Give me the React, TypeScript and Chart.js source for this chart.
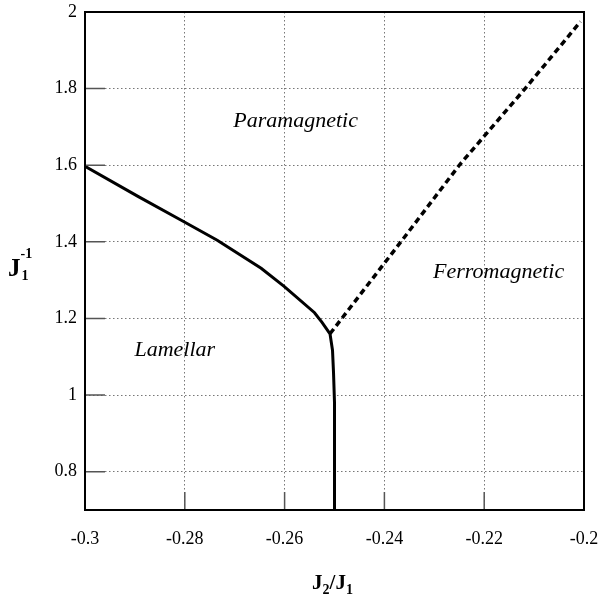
import React, { useEffect, useRef } from "react";
import { Chart, registerables } from "chart.js";

Chart.register(...registerables);

// Phase boundary (solid): Lamellar / Paramagnetic and Lamellar / Ferromagnetic
const SOLID_X = [-0.3, -0.2893, -0.2808, -0.2735, -0.2647, -0.2601, -0.254, -0.2525, -0.2509, -0.2504, -0.2502, -0.25, -0.25];
const SOLID_Y = [1.597, 1.518, 1.457, 1.404, 1.331, 1.284, 1.215, 1.19, 1.16, 1.117, 1.06, 0.98, 0.7];
// Phase boundary (dashed): Paramagnetic / Ferromagnetic
const DASH_X = [-0.2509, -0.2367, -0.225, -0.2118, -0.2007];
const DASH_Y = [1.16, 1.4, 1.6, 1.8, 1.975];

const X_TICKS = [-0.3, -0.28, -0.26, -0.24, -0.22, -0.2];
const Y_TICKS = [0.7, 0.8, 1.0, 1.2, 1.4, 1.6, 1.8, 2.0];
const Y_LABELED = [0.8, 1.0, 1.2, 1.4, 1.6, 1.8, 2.0];

const REGION_LABELS = ["Paramagnetic", "Ferromagnetic", "Lamellar"];
const REGION_X = [-0.2578, -0.2171, -0.282];
const REGION_Y = [1.716, 1.321, 1.117];

const fmt = (v: number) => String(parseFloat(v.toFixed(2)));

export default function App() {
  const ref = useRef<HTMLCanvasElement | null>(null);
  useEffect(() => {
    const canvas = ref.current!;
    const overlay = {
      id: "overlay",
      afterDatasetsDraw(chart: any) {
        const ctx = chart.ctx;
        const xs = chart.scales.x;
        const ys = chart.scales.y;
        const a = chart.chartArea;
        ctx.save();
        // inner tick marks
        ctx.strokeStyle = "#555";
        ctx.lineWidth = 1.5;
        ctx.beginPath();
        X_TICKS.forEach((v) => {
          const px = xs.getPixelForValue(v);
          ctx.moveTo(px, a.bottom);
          ctx.lineTo(px, a.bottom - 18);
        });
        Y_LABELED.forEach((v) => {
          const py = ys.getPixelForValue(v);
          ctx.moveTo(a.left, py);
          ctx.lineTo(a.left + 20, py);
        });
        ctx.stroke();
        // frame
        ctx.strokeStyle = "#000";
        ctx.lineWidth = 2;
        ctx.strokeRect(a.left, a.top, a.right - a.left, a.bottom - a.top);
        // region labels
        ctx.fillStyle = "#000";
        ctx.font = "italic 22px 'Liberation Serif'";
        ctx.textAlign = "center";
        ctx.textBaseline = "middle";
        REGION_LABELS.forEach((t, i) => {
          ctx.fillText(t, xs.getPixelForValue(REGION_X[i]), ys.getPixelForValue(REGION_Y[i]));
        });
        // x axis title J2/J1
        ctx.textAlign = "left";
        ctx.textBaseline = "alphabetic";
        const cx = (a.left + a.right) / 2;
        const big = "bold 21px 'Liberation Serif'";
        const small = "bold 14px 'Liberation Serif'";
        const parts: [string, string, number][] = [
          ["J", big, 0],
          ["2", small, 5],
          ["/J", big, 0],
          ["1", small, 5],
        ];
        let total = 0;
        parts.forEach(([t, f]) => {
          ctx.font = f;
          total += ctx.measureText(t).width;
        });
        let x = cx - total / 2 - 2;
        const base = 589;
        parts.forEach(([t, f, dy]) => {
          ctx.font = f;
          ctx.fillText(t, x, base + dy);
          x += ctx.measureText(t).width;
        });
        // y axis title J1^-1
        ctx.font = "bold 25px 'Liberation Serif'";
        ctx.fillText("J", 8, 276);
        const jw = ctx.measureText("J").width;
        ctx.font = "bold 14px 'Liberation Serif'";
        ctx.fillText("-1", 8 + jw, 258);
        ctx.fillText("1", 8 + jw + 1, 280);
        ctx.restore();
      },
    };
    const chart = new Chart(canvas, {
      type: "line",
      data: {
        datasets: [
          {
            data: SOLID_X.map((x, i) => ({ x, y: SOLID_Y[i] })),
            borderColor: "#000",
            borderWidth: 3,
            pointRadius: 0,
            tension: 0,
            fill: false,
          },
          {
            data: DASH_X.map((x, i) => ({ x, y: DASH_Y[i] })),
            borderColor: "#000",
            borderWidth: 3.5,
            borderDash: [6, 4],
            pointRadius: 0,
            tension: 0,
            fill: false,
          },
        ],
      },
      options: {
        animation: false,
        responsive: false,
        layout: { padding: { top: 12, right: 18, left: 0, bottom: 0 } },
        plugins: { legend: { display: false }, tooltip: { enabled: false } },
        scales: {
          x: {
            type: "linear",
            min: -0.3,
            max: -0.2,
            afterBuildTicks: (s: any) => {
              s.ticks = X_TICKS.map((v) => ({ value: v }));
            },
            afterFit: (s: any) => {
              s.height = 87;
              s.paddingLeft = 0;
              s.paddingRight = 0;
            },
            ticks: {
              callback: (v: any) => fmt(Number(v)),
              color: "#000",
              font: { family: "'Liberation Serif'", size: 18 },
              padding: 18,
              maxRotation: 0,
            },
            grid: { color: "#777", lineWidth: 1, drawTicks: false },
            border: { display: false, dash: [1.5, 2.5] },
          },
          y: {
            type: "linear",
            min: 0.7,
            max: 2,
            afterBuildTicks: (s: any) => {
              s.ticks = Y_TICKS.map((v) => ({ value: v }));
            },
            afterFit: (s: any) => {
              s.width = 85;
              s.paddingTop = 0;
              s.paddingBottom = 0;
            },
            ticks: {
              callback: (v: any) => (Y_LABELED.some((t) => Math.abs(t - Number(v)) < 1e-9) ? fmt(Number(v)) : ""),
              color: "#000",
              font: { family: "'Liberation Serif'", size: 18 },
              padding: 8,
            },
            grid: { color: "#777", lineWidth: 1, drawTicks: false },
            border: { display: false, dash: [1.5, 2.5] },
          },
        },
      },
      plugins: [overlay],
    } as any);
    return () => chart.destroy();
  }, []);
  return (
    <div style={{ position: "fixed", left: 0, top: 0, width: 602, height: 597, background: "#fff" }}>
      <canvas ref={ref} width={602} height={597} />
    </div>
  );
}
